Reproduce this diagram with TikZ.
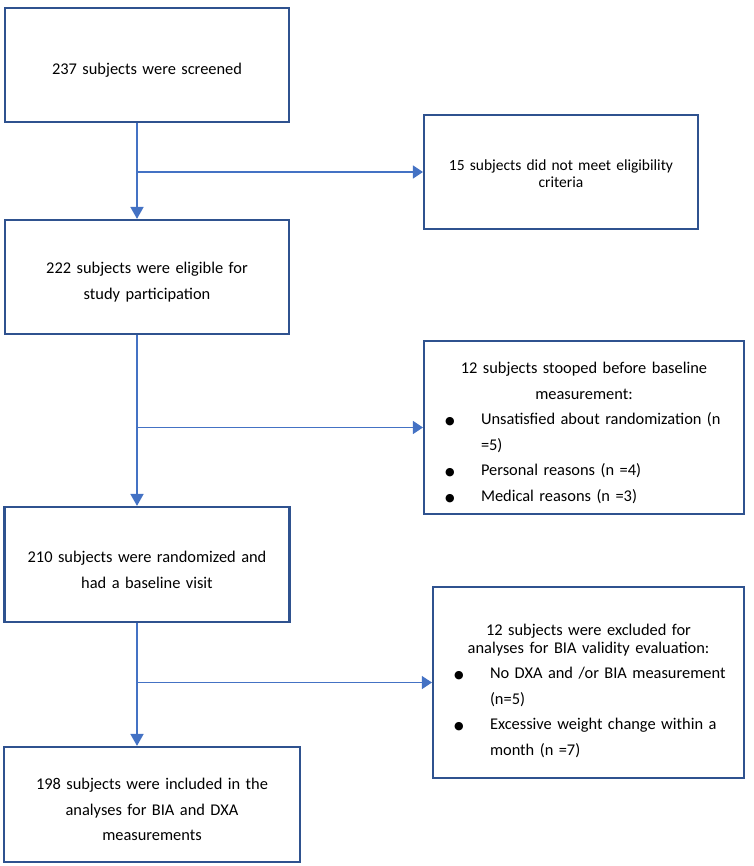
\documentclass[tikz,border=0pt]{standalone}
\usepackage{fontspec}
\setmainfont{Carlito}
\newfontfamily\dotfont{DejaVu Sans}
\usetikzlibrary{arrows.meta}

\definecolor{boxblue}{HTML}{2F528F}
\definecolor{arrowblue}{HTML}{4472C4}

\tikzset{
  box/.style={draw=boxblue, line width=2.2pt, inner sep=0pt, align=center,
    font=\fontsize{16.4}{25.5}\selectfont, execute at begin node={\rule{0pt}{#1}}},
  box/.default=22pt,
  flow/.style={draw=arrowblue, line width=1.8pt, -{Triangle[length=12pt,width=13pt]}},
  side/.style={draw=arrowblue, line width=1.2pt, -{Triangle[length=10pt,width=13pt]}}
}

% #1 = box width, #2 = text
\newcommand\bitem[2]{\makebox[#1][l]{\hspace*{21pt}\makebox[36pt][l]{{\dotfont\fontsize{11}{11}\selectfont ●}}#2}}
\newcommand\bcont[2]{\makebox[#1][l]{\hspace*{57pt}#2}}

\begin{document}
\begin{tikzpicture}[x=1pt,y=-1pt]
\path[use as bounding box] (0,0) rectangle (753,866);

\newcommand\spinex{137}
\coordinate (spine) at (\spinex,0);

% main column
\node[box, minimum width=284pt, minimum height=114pt, text width=284pt] (screened) at (147,65)
  {237 subjects were screened};
\node[box, minimum width=284pt, minimum height=114pt, text width=284pt] (eligible) at (147,277)
  {222 subjects were eligible for\\study participation};
\node[box, minimum width=285pt, minimum height=115pt, text width=285pt] (randomized) at (147,564.5)
  {210 subjects were randomized and\\had a baseline visit};
\node[box, minimum width=296pt, minimum height=115pt, text width=296pt] (included) at (152,804.5)
  {198 subjects were included in the\\analyses for BIA and DXA\\measurements};

% exclusions
\node[box=14pt, minimum width=274pt, minimum height=114pt, text width=274pt,
  font=\fontsize{15.5}{17}\selectfont] (ineligible) at (561,172)
  {15 subjects did not meet eligibility\\criteria};
\node[box, minimum width=320pt, minimum height=173pt, text width=320pt] (stopped) at (584,427.5)
  {12 subjects stooped before baseline\\
   measurement:\\
   \bitem{320pt}{Unsatisfied about randomization (n}\\
   \bcont{320pt}{=5)}\\
   \bitem{320pt}{Personal reasons (n =4)}\\
   \bitem{320pt}{Medical reasons (n =3)}};
\node[box=28pt, minimum width=311pt, minimum height=191pt, text width=311pt] (excluded) at (588.5,682.5)
  {12 subjects were excluded for\\[-7.5pt]
   analyses for BIA validity evaluation:\\
   \bitem{311pt}{No DXA and /or BIA measurement}\\
   \bcont{311pt}{(n=5)}\\
   \bitem{311pt}{Excessive weight change within a}\\
   \bcont{311pt}{month (n =7)}};

\draw[flow] (screened.south -| spine) -- (eligible.north -| spine);
\draw[flow] (eligible.south -| spine) -- (randomized.north -| spine);
\draw[flow] (randomized.south -| spine) -- (included.north -| spine);

\draw[side] (spine |- ineligible.west) -- (ineligible.west);
\draw[side] (spine |- stopped.west) -- (stopped.west);
\draw[side] (spine |- excluded.west) -- (excluded.west);

\end{tikzpicture}
\end{document}
